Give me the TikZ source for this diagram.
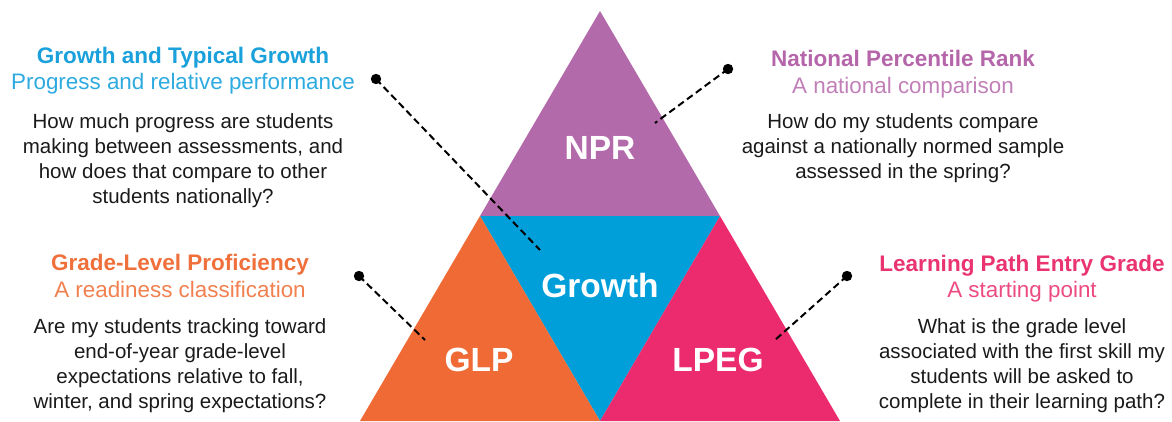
\documentclass[tikz,border=0pt]{standalone}
\usepackage{fontspec}
\setmainfont{Liberation Sans}
\definecolor{triP}{HTML}{B36AAA}
\definecolor{triB}{HTML}{009FDA}
\definecolor{triO}{HTML}{EF6A35}
\definecolor{triK}{HTML}{EB2B6E}
\definecolor{tB}{HTML}{1AA0DB}
\definecolor{sB}{HTML}{2DAAE0}
\definecolor{tP}{HTML}{B565A9}
\definecolor{sP}{HTML}{C17FB8}
\definecolor{tO}{HTML}{F0703C}
\definecolor{sO}{HTML}{F2804F}
\definecolor{tK}{HTML}{E93470}
\definecolor{sK}{HTML}{EC4A80}
\definecolor{bodyc}{HTML}{1A1A1A}
\tikzset{
  titletext/.style={anchor=base,inner sep=0pt,font=\fontsize{22.5}{26}\selectfont\bfseries},
  subtext/.style={anchor=base,inner sep=0pt,font=\fontsize{22.4}{26}\selectfont},
  bodytext/.style={anchor=base,inner sep=0pt,align=center,text=bodyc,font=\fontsize{20.5}{24.7}\selectfont},
  tlabel/.style={anchor=base,inner sep=0pt,text=white,font=\fontsize{33.5}{36}\selectfont\bfseries},
  leader/.style={dash pattern=on 7pt off 4pt,line width=2pt,black},
  dotc/.style={fill=black}
}
\begin{document}
\begin{tikzpicture}[x=1pt,y=-1pt]
\useasboundingbox (0,0) rectangle (1172,421);
% triangles
\coordinate (apex) at (600,11);
\coordinate (ml) at (480,216);
\coordinate (mr) at (720,216);
\coordinate (bl) at (360,421);
\coordinate (bm) at (600,421);
\coordinate (br) at (840,421);
\fill[triP] (apex) -- (ml) -- (mr) -- cycle;
\fill[triB] (ml) -- (mr) -- (bm) -- cycle;
\fill[triO] (ml) -- (bl) -- (bm) -- cycle;
\fill[triK] (mr) -- (bm) -- (br) -- cycle;
\node[tlabel] (npr) at (600,159) {NPR};
\node[tlabel] (gro) at (600,297) {Growth};
\node[tlabel] (glp) at (479,371) {GLP};
\node[tlabel] (lpeg) at (718,371) {LPEG};
% top-left block
\node[titletext,text=tB] (t1) at (183,63) {Growth and Typical Growth};
\node[subtext,text=sB] (s1) at (183,89) {Progress and relative performance};
\node[bodytext] (b1) at (183,203) {How much progress are students\\making between assessments, and\\how does that compare to other\\students nationally?};
% top-right block
\node[titletext,text=tP] (t2) at (903,66) {National Percentile Rank};
\node[subtext,text=sP] (s2) at (903,93) {A national comparison};
\node[bodytext] (b2) at (903,178) {How do my students compare\\against a nationally normed sample\\assessed in the spring?};
% bottom-left block
\node[titletext,text=tO] (t3) at (180,270) {Grade-Level Proficiency};
\node[subtext,text=sO] (s3) at (180,297) {A readiness classification};
\node[bodytext] (b3) at (180,408) {Are my students tracking toward\\end-of-year grade-level\\expectations relative to fall,\\winter, and spring expectations?};
% bottom-right block
\node[titletext,text=tK] (t4) at (1022,271) {Learning Path Entry Grade};
\node[subtext,text=sK] (s4) at (1022,297) {A starting point};
\node[bodytext] (b4) at (1022,408) {What is the grade level\\associated with the first skill my\\students will be asked to\\complete in their learning path?};
% leaders
\coordinate (d1) at (376,79);
\coordinate (e1) at (540,250);
\coordinate (d2) at (728,69);
\coordinate (e2) at (655,123);
\coordinate (d3) at (359,276);
\coordinate (e3) at (425,340);
\coordinate (d4) at (847,276);
\coordinate (e4) at (775,340);
\draw[leader] (d1) -- (e1);
\draw[leader] (d2) -- (e2);
\draw[leader] (d3) -- (e3);
\draw[leader] (d4) -- (e4);
\fill[dotc] (d1) circle (5.2);
\fill[dotc] (d2) circle (5.2);
\fill[dotc] (d3) circle (5.2);
\fill[dotc] (d4) circle (5.2);
\end{tikzpicture}
\end{document}
